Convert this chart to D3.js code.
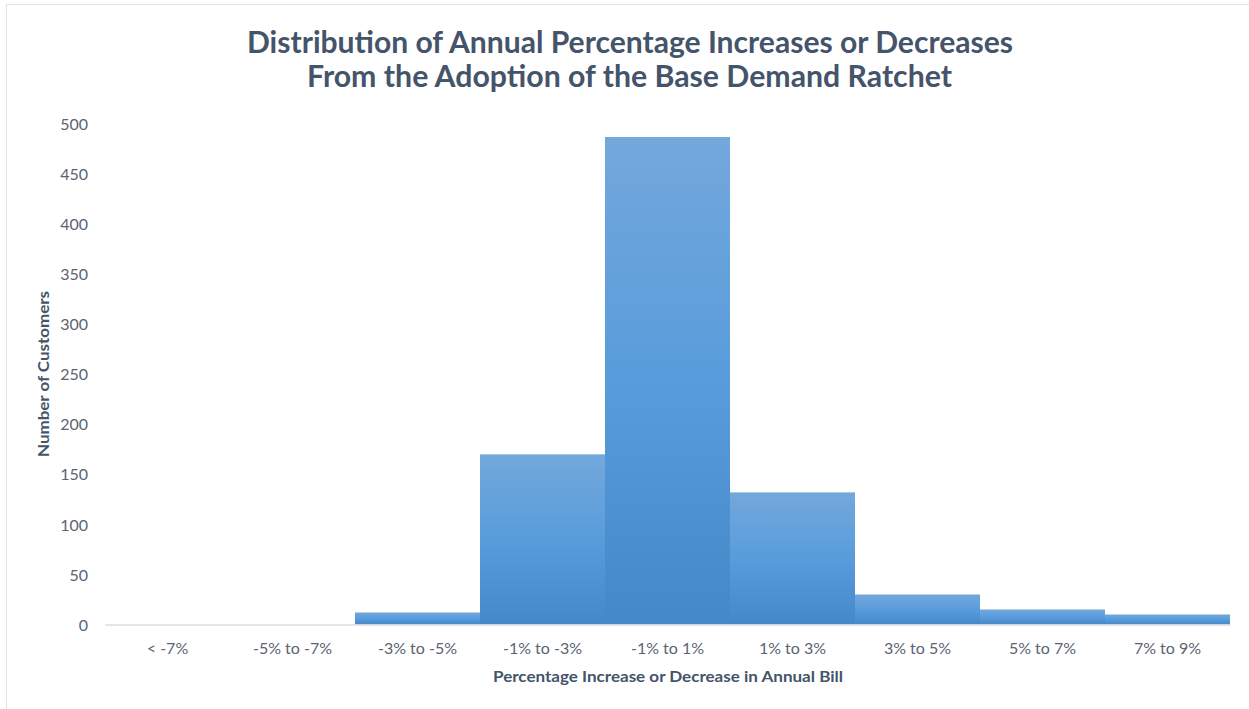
<!DOCTYPE html>
<html>
<head>
<meta charset="utf-8">
<script src="https://cdn.jsdelivr.net/npm/d3@7"></script>
<style>
  html, body { margin: 0; padding: 0; background: #fff; }
  svg { display: block; }
  text { font-family: Lato, "Open Sans", sans-serif; }
</style>
</head>
<body>
<svg id="chart" width="1249" height="709"></svg>
<script>
// Bill-change bins and customer counts
const categories = ["< -7%", "-5% to -7%", "-3% to -5%", "-1% to -3%", "-1% to 1%",
                    "1% to 3%", "3% to 5%", "5% to 7%", "7% to 9%"];
const customers = [0, 0, 12, 170, 487, 132, 30, 15, 10];
const yTicks = [0, 50, 100, 150, 200, 250, 300, 350, 400, 450, 500];
const titleLines = ["Distribution of Annual Percentage Increases or Decreases",
                    "From the Adoption of the Base Demand Ratchet"];
const xTitle = "Percentage Increase or Decrease in Annual Bill";
const yTitle = "Number of Customers";

const svg = d3.select("#chart");
const W = 1249, H = 709;
const plot = { left: 105, right: 1230, top: 124, bottom: 624.5 };

// outer frame
svg.append("path")
  .attr("d", `M6.5,${H} V4.5 H${W}`)
  .attr("fill", "none").attr("stroke", "#dde2e8").attr("stroke-width", 1);

// bar fill: light at top, deeper at the base
const defs = svg.append("defs");
const grad = defs.append("linearGradient").attr("id", "barFill")
  .attr("x1", 0).attr("y1", 0).attr("x2", 0).attr("y2", 1);
grad.append("stop").attr("offset", "0%").attr("stop-color", "#73a8dc");
grad.append("stop").attr("offset", "50%").attr("stop-color", "#589cdb");
grad.append("stop").attr("offset", "100%").attr("stop-color", "#4588c8");

const x = d3.scaleBand().domain(categories).range([plot.left, plot.right]).padding(0);
const y = d3.scaleLinear().domain([0, 500]).range([plot.bottom, plot.top]);

// title
const title = svg.append("g").attr("fill", "#44546a")
  .attr("font-weight", 700).attr("font-size", 30).attr("text-anchor", "middle");
title.append("text").attr("x", 630).attr("y", 53)
  .attr("textLength", 766).attr("lengthAdjust", "spacingAndGlyphs").text(titleLines[0]);
title.append("text").attr("x", 629.5).attr("y", 87)
  .attr("textLength", 645).attr("lengthAdjust", "spacingAndGlyphs").text(titleLines[1]);

// bars
svg.append("g").selectAll("rect")
  .data(categories.map((c, i) => ({ c, v: customers[i] })).filter(d => d.v > 0))
  .join("rect")
  .attr("x", d => x(d.c))
  .attr("width", x.bandwidth())
  .attr("y", d => y(d.v))
  .attr("height", d => y(0) - y(d.v))
  .attr("fill", "url(#barFill)");

// y axis (labels only)
const yAxis = d3.axisLeft(y).tickValues(yTicks).tickSize(0).tickPadding(0);
const yg = svg.append("g").attr("transform", `translate(${plot.left - 17},0)`).call(yAxis);
yg.select(".domain").remove();
yg.selectAll("text").attr("font-size", 16).attr("fill", "#5a6472")
  .attr("font-family", "Lato, 'Open Sans', sans-serif").attr("dy", "0.35em");

// x axis
const xAxis = d3.axisBottom(x).tickSize(0).tickPadding(0);
const xg = svg.append("g").attr("transform", `translate(0,${plot.bottom})`).call(xAxis);
xg.select(".domain").attr("stroke", "#d9dee4").attr("stroke-width", 1.5);
xg.selectAll("text").attr("font-size", 16).attr("fill", "#5a6472")
  .attr("font-family", "Lato, 'Open Sans', sans-serif").attr("dy", 0).attr("y", 29);

// axis titles
svg.append("text").attr("x", 668).attr("y", 682).attr("text-anchor", "middle")
  .attr("font-size", 15).attr("font-weight", 700).attr("fill", "#44546a")
  .attr("textLength", 350).attr("lengthAdjust", "spacingAndGlyphs").text(xTitle);
svg.append("text").attr("transform", "translate(49,374) rotate(-90)")
  .attr("text-anchor", "middle").attr("font-size", 15).attr("font-weight", 700)
  .attr("fill", "#44546a").attr("textLength", 166).attr("lengthAdjust", "spacingAndGlyphs")
  .text(yTitle);
</script>
</body>
</html>
